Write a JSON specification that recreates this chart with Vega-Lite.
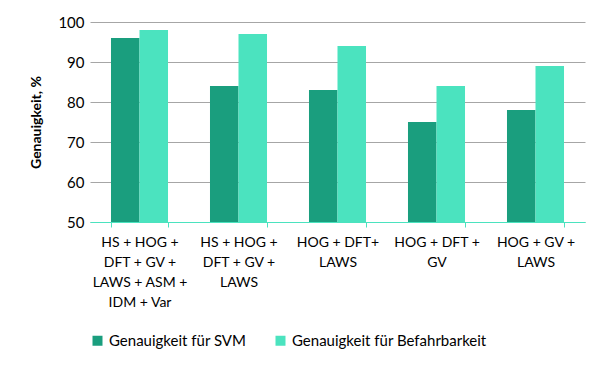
{
  "$schema": "https://vega.github.io/schema/vega-lite/v6.json",
  "width": 495,
  "height": 200,
  "autosize": {"type": "none"},
  "padding": {"left": 90, "top": 22, "right": 24, "bottom": 150},
  "background": "white",
  "config": {
    "font": "Lato",
    "view": {"stroke": null}
  },
  "data": {
    "values": [
      {"cat": "c1", "series": "Genauigkeit für SVM", "value": 96},
      {"cat": "c1", "series": "Genauigkeit für Befahrbarkeit", "value": 98},
      {"cat": "c2", "series": "Genauigkeit für SVM", "value": 84},
      {"cat": "c2", "series": "Genauigkeit für Befahrbarkeit", "value": 97},
      {"cat": "c3", "series": "Genauigkeit für SVM", "value": 83},
      {"cat": "c3", "series": "Genauigkeit für Befahrbarkeit", "value": 94},
      {"cat": "c4", "series": "Genauigkeit für SVM", "value": 75},
      {"cat": "c4", "series": "Genauigkeit für Befahrbarkeit", "value": 84},
      {"cat": "c5", "series": "Genauigkeit für SVM", "value": 78},
      {"cat": "c5", "series": "Genauigkeit für Befahrbarkeit", "value": 89}
    ]
  },
  "mark": {"type": "bar", "clip": true},
  "encoding": {
    "x": {
      "field": "cat",
      "type": "nominal",
      "sort": null,
      "scale": {"paddingInner": 0.424, "paddingOuter": 0.212},
      "axis": {
        "title": null,
        "labelAngle": 0,
        "labelExpr": "datum.value == 'c1' ? ['HS + HOG +', 'DFT + GV +', 'LAWS + ASM +', 'IDM + Var'] : datum.value == 'c2' ? ['HS + HOG +', 'DFT + GV +', 'LAWS'] : datum.value == 'c3' ? ['HOG + DFT+', 'LAWS'] : datum.value == 'c4' ? ['HOG + DFT +', 'GV'] : datum.value == 'c5' ? ['HOG + GV +', 'LAWS'] : ''",
        "labelFontSize": 14,
        "labelColor": "#000000",
        "labelLineHeight": 20,
        "labelPadding": 8,
        "labelBaseline": "top",
        "labelLimit": 200,
        "tickBand": "extent",
        "tickColor": "#4BE3BF",
        "tickSize": 5,
        "domainColor": "#4BE3BF",
        "domainWidth": 1
      }
    },
    "xOffset": {
      "field": "series",
      "type": "nominal",
      "sort": ["Genauigkeit für SVM", "Genauigkeit für Befahrbarkeit"]
    },
    "y": {
      "field": "value",
      "type": "quantitative",
      "scale": {"domain": [50, 100], "zero": false},
      "axis": {
        "title": "Genauigkeit, %",
        "titleFontSize": 14,
        "titleFontWeight": "bold",
        "titleColor": "#000000",
        "titlePadding": 14,
        "values": [50, 60, 70, 80, 90, 100],
        "labelFontSize": 15,
        "labelColor": "#000000",
        "labelPadding": 6,
        "ticks": false,
        "domain": false,
        "gridColor": "#A6A6A6",
        "gridWidth": 1
      }
    },
    "color": {
      "field": "series",
      "type": "nominal",
      "sort": ["Genauigkeit für SVM", "Genauigkeit für Befahrbarkeit"],
      "scale": {"range": ["#1A9E7E", "#4BE3BF"]},
      "legend": {
        "title": null,
        "orient": "bottom",
        "direction": "horizontal",
        "symbolType": "square",
        "symbolSize": 100,
        "symbolStrokeWidth": 0,
        "labelFontSize": 15,
        "labelColor": "#000000",
        "labelLimit": 300,
        "columnPadding": 26,
        "offset": 24
      }
    }
  }
}
